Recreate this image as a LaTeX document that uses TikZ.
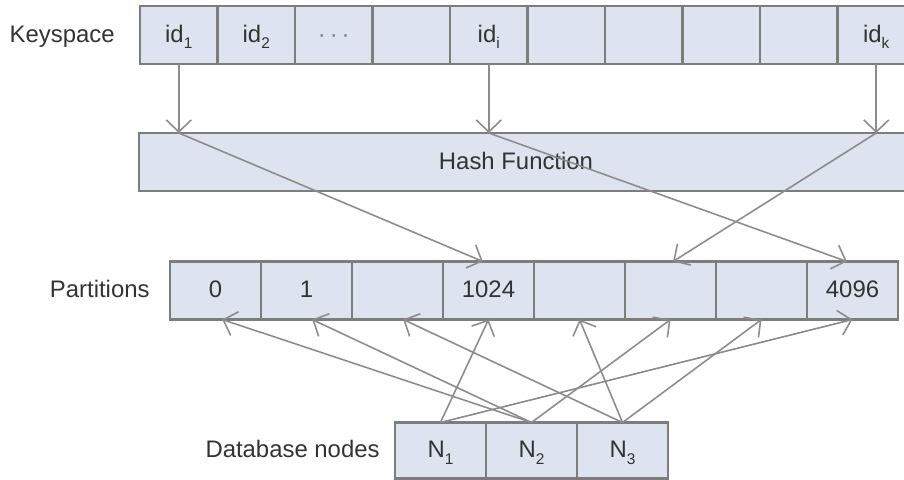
\documentclass[tikz,border=0pt]{standalone}
\usepackage{fontspec}
\setmainfont{Liberation Sans}
\usetikzlibrary{positioning,arrows.meta}
\definecolor{cell blue}{rgb}{0.867, 0.890, 0.937}
\definecolor{edge gray}{rgb}{0.49, 0.49, 0.49}
\definecolor{arrow gray}{rgb}{0.55, 0.55, 0.55}
\definecolor{label gray}{rgb}{0.2, 0.2, 0.2}
\newcommand{\lowsub}[1]{\raisebox{-0.5ex}{\fontsize{4.4}{5}\selectfont #1}}
\tikzset{
	cell/.style = {draw = edge gray, fill = cell blue, line width = 0.7pt, inner sep = 0pt, outer sep = 0pt, minimum height = 0.58cm, text = label gray, text height = 0.8ex, text depth = 0pt},
	keycell/.style = {cell, minimum width = 0.775cm},
	partcell/.style = {cell, minimum width = 0.91cm},
	rowlabel/.style = {text = label gray, text height = 0.8ex, text depth = 0pt},
	link/.style = {draw = arrow gray, line width = 0.45pt, -{Straight Barb[length = 0.12cm, width = 0.25cm]}}
}

\begin{document}
\begin{tikzpicture}[font = \fontsize{6.8}{8.2}\selectfont]
			\useasboundingbox (0, 0) rectangle (9.04, -4.80);
			% keyspace row
			\node[keycell] (k1) at (1.7875, -0.35) {id\lowsub{1}};
			\node[keycell] (k2) at (2.5625, -0.35) {id\lowsub{2}};
			\node[keycell, text = gray] (k3) at (3.3375, -0.35) {·\,·\,·};
			\node[keycell] (k4) at (4.1125, -0.35) {};
			\node[keycell] (k5) at (4.8875, -0.35) {id\lowsub{i}};
			\node[keycell] (k6) at (5.6625, -0.35) {};
			\node[keycell] (k7) at (6.4375, -0.35) {};
			\node[keycell] (k8) at (7.2125, -0.35) {};
			\node[keycell] (k9) at (7.9875, -0.35) {};
			\node[keycell] (k10) at (8.7625, -0.35) {id\lowsub{k}};
			\node[rowlabel, left = 0.13cm of k1] (keyspace) {Keyspace};
			% hash function
			\node[cell, minimum width = 7.76cm] (hash) at (5.27, -1.62) {Hash Function\kern0.22cm};
			% partitions row
			\node[partcell] (p0) at (2.155, -2.905) {0};
			\node[partcell] (p1) at (3.065, -2.905) {1};
			\node[partcell] (p2) at (3.975, -2.905) {};
			\node[partcell] (p3) at (4.885, -2.905) {1024};
			\node[partcell] (p4) at (5.795, -2.905) {};
			\node[partcell] (p5) at (6.705, -2.905) {};
			\node[partcell] (p6) at (7.615, -2.905) {};
			\node[partcell] (p7) at (8.525, -2.905) {4096};
			\node[rowlabel, left = 0.08cm of p0] (partitions) {Partitions};
			% database nodes
			\node[partcell, minimum height = 0.56cm] (n1) at (4.405, -4.505) {N\lowsub{1}};
			\node[partcell, minimum height = 0.56cm] (n2) at (5.315, -4.505) {N\lowsub{2}};
			\node[partcell, minimum height = 0.56cm] (n3) at (6.225, -4.505) {N\lowsub{3}};
			\node[rowlabel, left = 0.03cm of n1] (databases) {Database nodes};
			% keys into the hash
			\coordinate (h1) at (k1 |- hash.north);
			\coordinate (hi) at (k5 |- hash.north);
			\coordinate (hk) at (k10 |- hash.north);
			\draw[link] (k1.south) -- (h1);
			\draw[link] (k5.south) -- (hi);
			\draw[link] (k10.south) -- (hk);
			% hash onto partitions
			\draw[link] (h1) -- (p3.101);
			\draw[link] (hi) -- (p7.101);
			\draw[link] (hk) -- (p5.85);
			% nodes owning partitions
			\draw[link] (n1.north) -- (p3.south);
			\draw[link] (n1.north) -- (p7.south);
			\draw[link] (n2.north) -- (p0.-77);
			\draw[link] (n2.north) -- (p1.-79);
			\draw[link] (n2.north) -- (p5.south);
			\draw[link] (n3.north) -- (p2.-79);
			\draw[link] (n3.north) -- (p4.south);
			\draw[link] (n3.north) -- (p6.south);
		\end{tikzpicture}
\end{document}
